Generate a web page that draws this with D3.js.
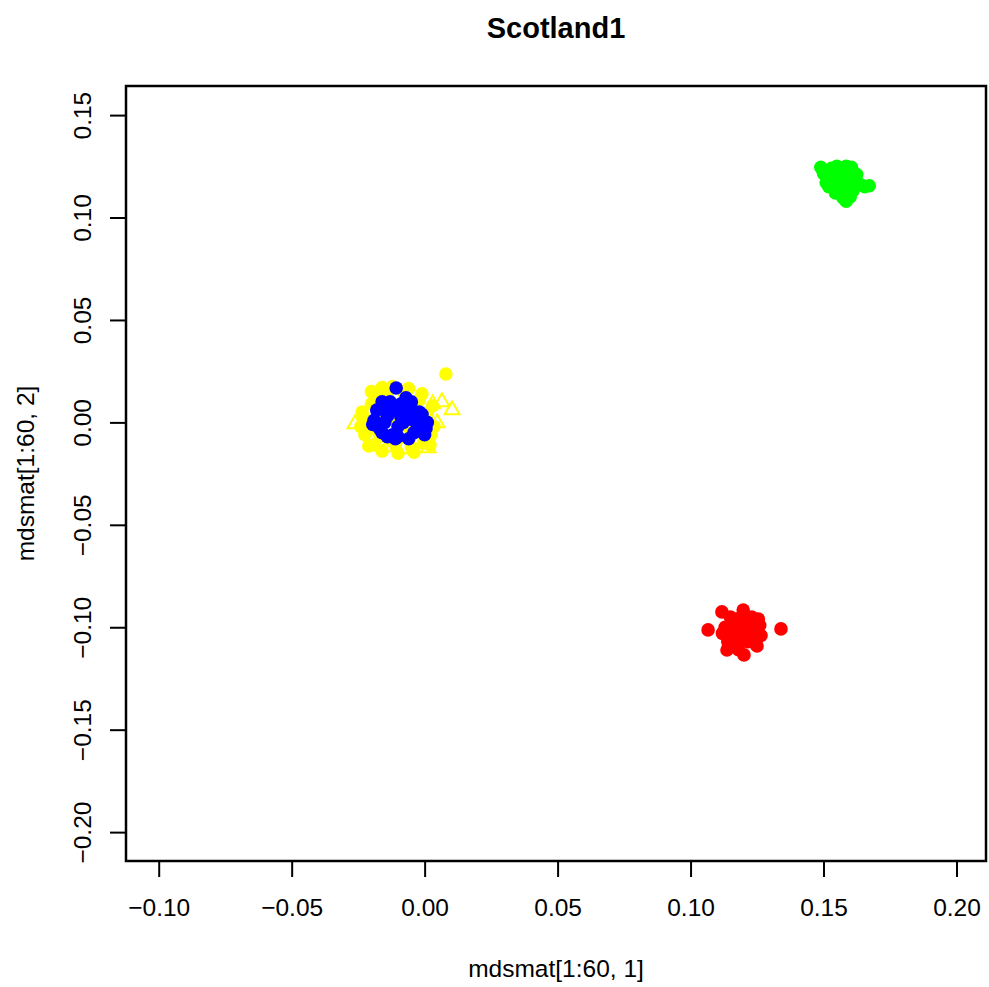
<!DOCTYPE html>
<html>
<head>
<meta charset="utf-8">
<script src="https://cdn.jsdelivr.net/npm/d3@7"></script>
<style>
  body { margin: 0; background: #fff; }
  text { font-family: "Liberation Sans", Arial, sans-serif; fill: #000; }
</style>
</head>
<body>
<div id="chart"></div>
<script>
// MDS coordinates (dim 1 = x, dim 2 = y)
const yellowX = [-0.0230, -0.0200, -0.0170, -0.0140, -0.0110, -0.0080, -0.0050, -0.0020, 0.0010, 0.0025,
                 -0.0215, -0.0185, -0.0155, -0.0125, -0.0095, -0.0065, -0.0035, -0.0005, 0.0080, -0.0190,
                 -0.0235, -0.0225, -0.0200, -0.0160, -0.0120, -0.0060, -0.0010, 0.0030, 0.0035, 0.0020,
                 -0.0040, -0.0100, -0.0160, -0.0210, -0.0240, -0.0130, -0.0060];
const yellowY = [0.0020, 0.0090, -0.0070, 0.0130, -0.0110, 0.0150, -0.0120, 0.0110, 0.0040, -0.0060,
                 -0.0040, 0.0120, 0.0000, -0.0090, 0.0060, -0.0020, 0.0090, -0.0100, 0.0236, -0.0110,
                 0.0050, -0.0060, 0.0150, 0.0170, 0.0175, 0.0165, 0.0140, 0.0080, -0.0020, -0.0110,
                 -0.0145, -0.0150, -0.0140, -0.0115, -0.0020, 0.0020, 0.0000];
const triX = [0.0065, 0.0103, 0.0047, 0.0013, -0.0141, -0.0262, -0.0080, 0.0030];
const triY = [0.0100, 0.0061, -0.0003, -0.0125, -0.0120, -0.0008, -0.0130, 0.0090];
const blueX = [-0.0107, -0.0190, -0.0150, -0.0120, -0.0090, -0.0060, -0.0030, -0.0005, -0.0170, -0.0100,
               -0.0070, -0.0040, -0.0140, -0.0080, -0.0020, -0.0180, -0.0160, -0.0130, -0.0110, -0.0050,
               -0.0010, 0.0000, -0.0060, -0.0150, -0.0090, -0.0030, -0.0120, -0.0080, -0.0060, -0.0100,
               -0.0040, 0.0010, 0.0005, -0.0195, -0.0140, -0.0050, -0.0160];
const blueY = [0.0168, 0.0010, 0.0080, -0.0060, 0.0090, 0.0060, 0.0020, -0.0020, -0.0030, -0.0070,
               0.0120, -0.0050, 0.0030, 0.0000, 0.0050, 0.0060, -0.0050, 0.0100, -0.0080, 0.0100,
               0.0040, -0.0060, -0.0080, 0.0000, 0.0030, -0.0040, 0.0060, 0.0010, 0.0030, -0.0020,
               0.0010, 0.0000, -0.0030, -0.0010, -0.0070, 0.0060, 0.0100];
const redX = [0.1066, 0.1340, 0.1118, 0.1198, 0.1201, 0.1137, 0.1250, 0.1160, 0.1185, 0.1210,
              0.1235, 0.1175, 0.1145, 0.1225, 0.1190, 0.1130, 0.1150, 0.1215, 0.1250, 0.1260,
              0.1165, 0.1200, 0.1230, 0.1140, 0.1180, 0.1210, 0.1240, 0.1255, 0.1265, 0.1120,
              0.1200, 0.1170, 0.1230];
const redY = [-0.1013, -0.1008, -0.0925, -0.0916, -0.1135, -0.1111, -0.1091, -0.0985, -0.1020, -0.0960,
              -0.1030, -0.1060, -0.1040, -0.0990, -0.0950, -0.1000, -0.0950, -0.1070, -0.1010, -0.0990,
              -0.1090, -0.0945, -0.0950, -0.1070, -0.1110, -0.1010, -0.1040, -0.0960, -0.1040, -0.1030,
              -0.1000, -0.1010, -0.1070];
const greenX = [0.1490, 0.1550, 0.1605, 0.1672, 0.1574, 0.1520, 0.1560, 0.1590, 0.1540, 0.1620,
                0.1580, 0.1545, 0.1600, 0.1565, 0.1510, 0.1500, 0.1530, 0.1585, 0.1625, 0.1640,
                0.1655, 0.1520, 0.1555, 0.1585, 0.1610, 0.1530, 0.1600];
const greenY = [0.1245, 0.1250, 0.1245, 0.1155, 0.1095, 0.1200, 0.1180, 0.1140, 0.1150, 0.1175,
                0.1215, 0.1120, 0.1100, 0.1225, 0.1170, 0.1215, 0.1240, 0.1250, 0.1210, 0.1160,
                0.1150, 0.1150, 0.1120, 0.1080, 0.1130, 0.1185, 0.1195];
const xTicks = [-0.10, -0.05, 0.00, 0.05, 0.10, 0.15, 0.20];
const yTicks = [-0.20, -0.15, -0.10, -0.05, 0.00, 0.05, 0.10, 0.15];

const width = 989, height = 987;
const plot = { left: 126, right: 986, top: 86, bottom: 861 };
const fontSize = 24.5;

const svg = d3.select('#chart').append('svg')
  .attr('width', width)
  .attr('height', height);

const x = d3.scaleLinear().domain([-0.1123, 0.2111]).range([plot.left, plot.right]);
const y = d3.scaleLinear().domain([-0.2141, 0.1642]).range([plot.bottom, plot.top]);

const fmt = d => d3.format('.2f')(d).replace('-', '\u2212');

// x axis
const xAxis = svg.append('g')
  .attr('transform', 'translate(0,' + plot.bottom + ')')
  .call(d3.axisBottom(x).tickValues(xTicks).tickSize(16).tickFormat(fmt));
xAxis.select('.domain').remove();
xAxis.selectAll('line').attr('stroke', '#000').attr('stroke-width', 2);
xAxis.selectAll('text').attr('font-size', fontSize).attr('y', 46).attr('dy', null)
  .attr('dominant-baseline', 'central')
  .style('font-family', '"Liberation Sans", Arial, sans-serif');

// y axis, labels rotated like R's default las=0
const yAxis = svg.append('g')
  .attr('transform', 'translate(' + plot.left + ',0)')
  .call(d3.axisLeft(y).tickValues(yTicks).tickSize(16).tickFormat(fmt));
yAxis.select('.domain').remove();
yAxis.selectAll('line').attr('stroke', '#000').attr('stroke-width', 2);
yAxis.selectAll('text')
  .attr('font-size', fontSize)
  .attr('x', 0).attr('y', 0).attr('dy', null)
  .attr('text-anchor', 'middle')
  .attr('transform', 'translate(-44,0) rotate(-90)')
  .style('font-family', '"Liberation Sans", Arial, sans-serif')
  .attr('dominant-baseline', 'central');

// points
const circ = (xs, ys, col) => svg.append('g')
  .selectAll('circle')
  .data(xs.map((v, i) => [v, ys[i]]))
  .enter().append('circle')
  .attr('cx', d => x(d[0]))
  .attr('cy', d => y(d[1]))
  .attr('r', 6.8)
  .attr('fill', col);

const tri = d3.symbol().type(d3.symbolTriangle).size(95);
svg.append('g')
  .selectAll('path')
  .data(triX.map((v, i) => [v, triY[i]]))
  .enter().append('path')
  .attr('d', tri)
  .attr('transform', d => 'translate(' + x(d[0]) + ',' + y(d[1]) + ')')
  .attr('fill', 'none')
  .attr('stroke', '#ffff00')
  .attr('stroke-width', 2);

circ(yellowX, yellowY, '#ffff00');
circ(blueX, blueY, '#0000ff');
circ(redX, redY, '#ff0000');
circ(greenX, greenY, '#00ff00');

// box
svg.append('rect')
  .attr('x', plot.left).attr('y', plot.top)
  .attr('width', plot.right - plot.left).attr('height', plot.bottom - plot.top)
  .attr('fill', 'none').attr('stroke', '#000').attr('stroke-width', 2.5);

// titles
svg.append('text')
  .attr('x', (plot.left + plot.right) / 2).attr('y', 28)
  .attr('text-anchor', 'middle').attr('dominant-baseline', 'central')
  .attr('font-size', 29).attr('font-weight', 'bold')
  .text('Scotland1');

svg.append('text')
  .attr('x', (plot.left + plot.right) / 2).attr('y', 968)
  .attr('text-anchor', 'middle').attr('dominant-baseline', 'central')
  .attr('font-size', fontSize)
  .text('mdsmat[1:60, 1]');

svg.append('text')
  .attr('transform', 'translate(25,' + (plot.top + plot.bottom) / 2 + ') rotate(-90)')
  .attr('text-anchor', 'middle').attr('dominant-baseline', 'central')
  .attr('font-size', fontSize)
  .text('mdsmat[1:60, 2]');
</script>
</body>
</html>
